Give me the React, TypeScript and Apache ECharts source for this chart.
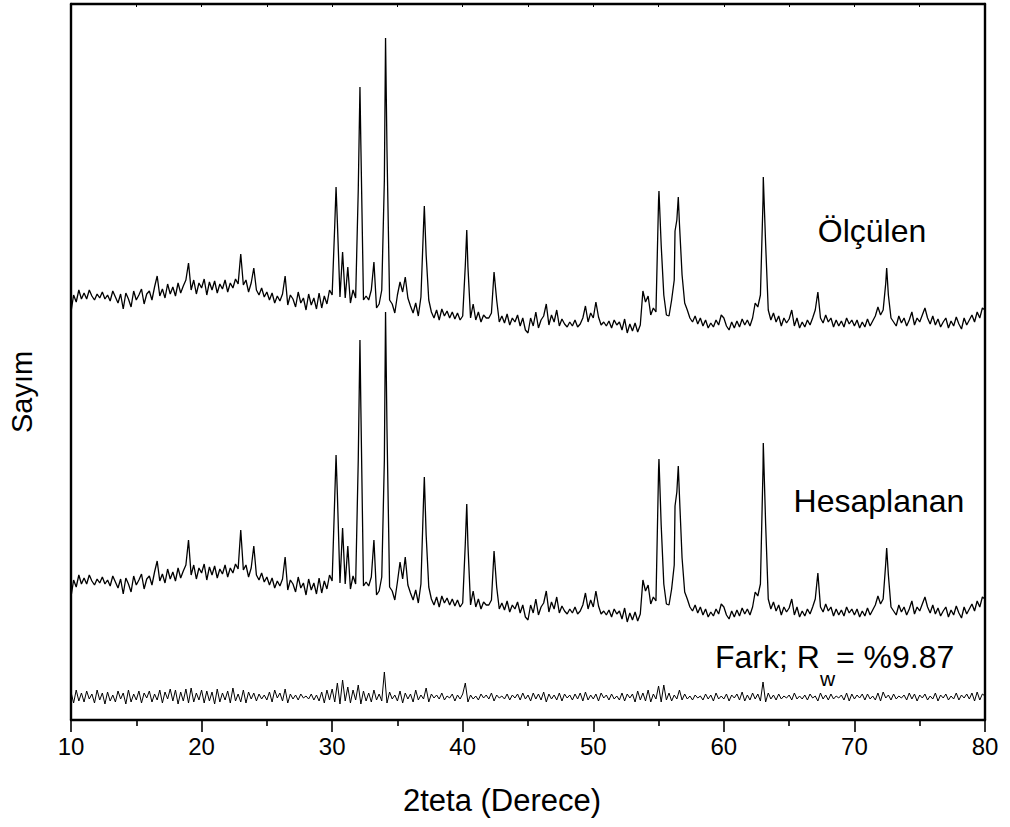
import React, { useEffect, useRef } from "react";
import * as echarts from "echarts";

// Scan grid (2θ, degrees) – instrument step used for the read-off values
const STEP = 0.2;
const twoTheta: number[] = Array.from({ length: 351 }, (_, i) => Math.round((10 + i * STEP) * 10) / 10);

const xTickLabels = [10, 20, 30, 40, 50, 60, 70, 80];

// Ölçülen (measured) – one row per degree: x.0, x.2, x.4, x.6, x.8
const measured: number[] = [
  408, 425, 418, 430, 421,
  427, 421, 430, 424, 420,
  426, 422, 428, 421, 425,
  419, 429, 423, 417, 426,
  411, 427, 421, 413, 429,
  420, 425, 431, 416, 426,
  429, 420, 433, 444, 424,
  431, 422, 436, 426, 433,
  424, 437, 427, 434, 440,
  457, 430, 440, 426, 437,
  432, 441, 425, 438, 430,
  439, 427, 436, 431, 440,
  428, 437, 432, 441, 436,
  466, 435, 440, 428, 437,
  452, 430, 425, 432, 423,
  428, 420, 427, 417, 424,
  419, 426, 444, 415, 425,
  421, 413, 428, 417, 422,
  410, 426, 415, 422, 411,
  427, 412, 424, 416, 430,
  425, 495, 498, 423, 468,
  422, 453, 417, 430, 422,
  530, 575, 420, 424, 420,
  430, 458, 412, 416, 430,
  540, 570, 420, 416, 407,
  425, 438, 428, 443, 422,
  414, 407, 417, 404, 423,
  494, 465, 420, 408, 402,
  410, 400, 411, 404, 409,
  402, 408, 401, 407, 400,
  404, 455, 453, 402, 416,
  400, 408, 398, 405, 402,
  402, 407, 448, 420, 398,
  404, 397, 406, 395, 402,
  398, 405, 394, 402, 390,
  387, 402, 394, 408, 392,
  400, 404, 416, 395, 405,
  398, 410, 394, 401, 396,
  393, 398, 394, 400, 393,
  396, 402, 414, 398, 407,
  402, 418, 403, 395, 398,
  394, 399, 392, 400, 395,
  398, 390, 401, 387, 396,
  389, 397, 388, 395, 429,
  418, 424, 405, 412, 408,
  520, 475, 425, 405, 404,
  420, 440, 500, 496, 445,
  417, 410, 402, 398, 404,
  396, 402, 394, 400, 392,
  397, 393, 400, 395, 405,
  402, 394, 390, 398, 392,
  399, 393, 401, 395, 400,
  394, 402, 417, 413, 425,
  520, 476, 410, 400, 407,
  398, 404, 394, 402, 397,
  401, 410, 394, 402, 392,
  398, 393, 400, 395, 402,
  410, 428, 402, 397, 405,
  398, 402, 393, 400, 394,
  399, 393, 402, 396, 400,
  394, 400, 392, 398, 393,
  401, 394, 399, 404, 413,
  405, 410, 437, 425, 402,
  398, 394, 404, 397, 402,
  394, 400, 408, 395, 402,
  398, 405, 412, 402, 396,
  404, 395, 401, 393, 398,
  402, 392, 399, 394, 403,
  396, 391, 402, 395, 400,
  405, 398, 408, 402, 412,
  410,
];
// Peak apexes lying between scan points [2θ, intensity]
const measuredPeaks: [number, number][] = [
  [30.3, 533], [32.13, 633], [34.09, 682], [37.06, 514], [40.31, 490],
  [55.03, 529], [56.26, 489], [56.51, 523], [63.02, 543], [72.47, 452],
];

// Hesaplanan (calculated)
const calculated: number[] = [
  123, 140, 133, 145, 136,
  142, 136, 145, 139, 135,
  141, 137, 143, 136, 140,
  134, 144, 138, 132, 141,
  126, 142, 136, 128, 144,
  135, 140, 146, 131, 141,
  144, 135, 148, 159, 139,
  146, 137, 151, 141, 148,
  139, 152, 142, 149, 155,
  180, 145, 155, 141, 152,
  147, 156, 140, 153, 145,
  154, 142, 151, 146, 155,
  143, 152, 147, 156, 151,
  190, 150, 155, 143, 152,
  174, 145, 140, 147, 138,
  143, 135, 142, 132, 139,
  134, 141, 163, 130, 140,
  136, 128, 143, 132, 137,
  125, 141, 130, 137, 126,
  142, 127, 139, 131, 145,
  139, 223, 226, 137, 192,
  136, 174, 131, 144, 136,
  260, 312, 134, 138, 134,
  143, 180, 125, 129, 143,
  260, 291, 133, 129, 120,
  138, 158, 141, 163, 135,
  127, 120, 130, 117, 136,
  220, 185, 133, 121, 115,
  123, 113, 124, 117, 122,
  115, 121, 114, 120, 113,
  117, 177, 175, 115, 129,
  113, 121, 111, 118, 115,
  115, 120, 169, 133, 111,
  117, 110, 119, 108, 115,
  111, 118, 107, 115, 103,
  100, 115, 107, 121, 105,
  113, 117, 129, 108, 118,
  111, 123, 107, 114, 109,
  106, 111, 107, 113, 106,
  109, 115, 127, 111, 120,
  113, 129, 114, 106, 109,
  105, 110, 103, 111, 106,
  109, 101, 112, 98, 107,
  100, 108, 99, 106, 140,
  129, 135, 116, 123, 119,
  250, 195, 136, 116, 115,
  131, 155, 228, 224, 162,
  128, 121, 113, 109, 115,
  107, 113, 105, 111, 103,
  108, 104, 111, 106, 116,
  113, 105, 101, 109, 103,
  110, 104, 112, 106, 111,
  105, 113, 128, 124, 136,
  252, 196, 121, 111, 118,
  109, 115, 105, 113, 108,
  112, 121, 105, 113, 103,
  109, 104, 111, 106, 113,
  121, 147, 113, 108, 116,
  109, 113, 104, 111, 105,
  110, 104, 113, 107, 111,
  105, 111, 103, 109, 104,
  112, 105, 110, 115, 124,
  116, 121, 157, 145, 113,
  109, 105, 115, 108, 113,
  105, 111, 119, 106, 113,
  109, 116, 123, 113, 107,
  115, 106, 112, 104, 109,
  113, 103, 110, 105, 114,
  107, 102, 113, 106, 111,
  116, 109, 119, 113, 123,
  121,
];
const calculatedPeaks: [number, number][] = [
  [30.3, 265], [32.13, 380], [34.09, 408], [37.06, 243], [40.31, 216],
  [55.03, 261], [56.26, 214], [56.51, 254], [63.02, 277], [72.47, 172],
];

// Fark (difference)
const difference: number[] = [
  28, 17, 30, 19, 27,
  18, 29, 21, 26, 17,
  30, 20, 27, 16, 28,
  19, 25, 18, 29, 21,
  27, 16, 30, 18, 26,
  20, 29, 17, 27, 22,
  29, 18, 26, 20, 30,
  17, 28, 21, 31, 19,
  30, 16, 28, 19, 31,
  17, 32, 18, 27, 20,
  30, 17, 29, 19, 28,
  16, 31, 18, 27, 20,
  29, 17, 32, 19, 26,
  18, 30, 17, 28, 21,
  27, 19, 26, 21, 25,
  20, 28, 18, 30, 22,
  27, 19, 31, 17, 26,
  21, 25, 20, 26, 22,
  24, 21, 26, 20, 25,
  19, 28, 17, 30, 20,
  31, 18, 37, 16, 40,
  19, 33, 17, 30, 20,
  35, 16, 29, 19, 27,
  18, 30, 20, 26, 19,
  48, 17, 28, 21, 25,
  19, 29, 17, 27, 21,
  26, 18, 30, 20, 25,
  21, 32, 18, 26, 22,
  25, 21, 27, 20, 24,
  22, 26, 19, 25, 21,
  26, 37, 18, 25, 21,
  24, 20, 26, 22, 25,
  21, 27, 19, 25, 22,
  24, 21, 26, 20, 25,
  22, 26, 20, 27, 21,
  25, 19, 27, 21, 26,
  20, 28, 18, 26, 21,
  25, 20, 27, 19, 26,
  22, 25, 20, 26, 21,
  27, 19, 28, 20, 25,
  21, 26, 19, 27, 22,
  25, 20, 26, 21, 24,
  20, 27, 19, 26, 22,
  26, 18, 29, 20, 27,
  19, 30, 18, 26, 21,
  34, 18, 35, 20, 27,
  19, 25, 21, 30, 20,
  26, 21, 24, 20, 25,
  22, 24, 20, 26, 21,
  25, 19, 27, 21, 24,
  21, 26, 19, 25, 22,
  26, 20, 28, 19, 25,
  20, 27, 21, 26, 19,
  38, 18, 27, 21, 25,
  20, 26, 21, 24, 22,
  25, 20, 27, 21, 24,
  21, 25, 20, 26, 22,
  24, 19, 27, 21, 25,
  20, 26, 21, 24, 22,
  25, 20, 27, 19, 26,
  21, 25, 22, 26, 20,
  26, 21, 24, 20, 27,
  19, 28, 22, 25, 20,
  26, 21, 24, 22, 25,
  20, 27, 21, 26, 19,
  25, 22, 26, 20, 24,
  21, 27, 19, 25, 22,
  26, 20, 24, 21, 27,
  20, 25, 22, 26, 21,
  27, 19, 28, 20, 26,
  24,
];

const FONT = '"Liberation Sans", Arial, sans-serif';

function toPairs(values: number[], extra: [number, number][] = []): [number, number][] {
  const pts: [number, number][] = values.map((v, i) => [twoTheta[i], v]);
  pts.push(...extra);
  pts.sort((a, b) => a[0] - b[0]);
  return pts;
}

export default function App() {
  const ref = useRef<HTMLDivElement>(null);
  useEffect(() => {
    if (!ref.current) return;
    const chart = echarts.init(ref.current, undefined, { renderer: "svg" });
    const lineSeries = (name: string, data: [number, number][], width: number) => ({
      name,
      type: "line",
      data,
      showSymbol: false,
      symbol: "none",
      lineStyle: { color: "#000", width },
      emphasis: { disabled: true },
      silent: true,
    });
    chart.setOption({
      animation: false,
      backgroundColor: "#fff",
      grid: { left: 71, right: 25, top: 4, bottom: 107, containLabel: false },
      xAxis: [
        {
          type: "value",
          position: "bottom",
          min: xTickLabels[0],
          max: xTickLabels[xTickLabels.length - 1],
          interval: 10,
          axisLine: { show: true, onZero: false, lineStyle: { color: "#000", width: 2.4 } },
          axisTick: { show: true, inside: false, length: 12, lineStyle: { color: "#000", width: 1.6 } },
          minorTick: { show: true, splitNumber: 2, length: 6, lineStyle: { color: "#000", width: 1.6 } },
          splitLine: { show: false },
          axisLabel: { color: "#000", fontSize: 24, fontFamily: FONT, margin: 14 },
        },
        {
          type: "value",
          position: "top",
          min: 10,
          max: 80,
          interval: 5,
          axisLine: { show: true, onZero: false, lineStyle: { color: "#000", width: 2.4 } },
          axisTick: { show: true, inside: true, length: 3, lineStyle: { color: "#000", width: 1 } },
          splitLine: { show: false },
          axisLabel: { show: false },
        },
      ],
      yAxis: [
        {
          type: "value",
          position: "left",
          min: 0,
          max: 716,
          axisLine: { show: true, onZero: false, lineStyle: { color: "#000", width: 2.4 } },
          axisTick: { show: false },
          axisLabel: { show: false },
          splitLine: { show: false },
        },
        {
          type: "value",
          position: "right",
          min: 0,
          max: 716,
          axisLine: { show: true, onZero: false, lineStyle: { color: "#000", width: 2.4 } },
          axisTick: { show: false },
          axisLabel: { show: false },
          splitLine: { show: false },
        },
      ],
      series: [
        lineSeries("Ölçülen", toPairs(measured, measuredPeaks), 1.3),
        lineSeries("Hesaplanan", toPairs(calculated, calculatedPeaks), 1.3),
        lineSeries("Fark", toPairs(difference), 1.0),
      ],
      graphic: [
        {
          type: "text", x: 22, y: 392, rotation: Math.PI / 2,
          style: { text: "Sayım", font: `29px ${FONT}`, fill: "#000", align: "center", verticalAlign: "middle" },
        },
        {
          type: "text", x: 502, y: 800,
          style: { text: "2teta (Derece)", font: `31px ${FONT}`, fill: "#000", align: "center", verticalAlign: "middle" },
        },
        {
          type: "text", x: 872, y: 231,
          style: { text: "Ölçülen", font: `32px ${FONT}`, fill: "#000", align: "center", verticalAlign: "middle" },
        },
        {
          type: "text", x: 879, y: 501,
          style: { text: "Hesaplanan", font: `32px ${FONT}`, fill: "#000", align: "center", verticalAlign: "middle" },
        },
        {
          type: "text", x: 715, y: 657,
          style: { text: "Fark; R", font: `32px ${FONT}`, fill: "#000", align: "left", verticalAlign: "middle" },
        },
        {
          type: "text", x: 820, y: 678,
          style: { text: "w", font: `21px ${FONT}`, fill: "#000", align: "left", verticalAlign: "middle" },
        },
        {
          type: "text", x: 836, y: 657,
          style: { text: "= %9.87", font: `32px ${FONT}`, fill: "#000", align: "left", verticalAlign: "middle" },
        },
      ],
    });
    return () => chart.dispose();
  }, []);
  return (
    <div
      ref={ref}
      style={{ position: "fixed", left: 0, top: 0, width: 1010, height: 827, background: "#fff" }}
    />
  );
}
